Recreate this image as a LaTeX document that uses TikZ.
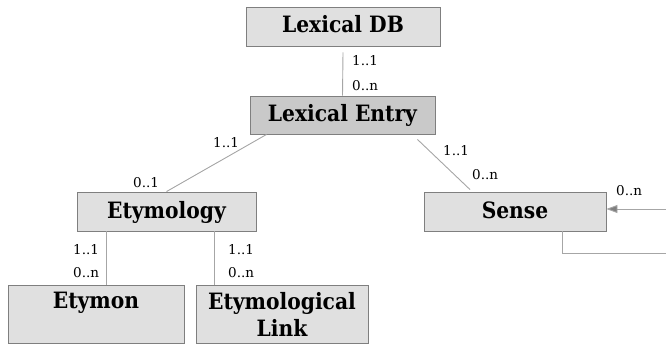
\documentclass[tikz,border=0pt]{standalone}
\usepackage{fontspec}
\setmainfont{DejaVu Serif}
\newfontfamily\boxfont{DejaVu Serif}[FakeStretch=0.9]
\usepackage{tikz}
\usetikzlibrary{positioning,arrows.meta}
\definecolor{boxfill}{HTML}{E0E0E0}
\definecolor{entryfill}{HTML}{C9C9C9}
\definecolor{boxline}{HTML}{7F7F7F}
\definecolor{linkline}{HTML}{A6A6A6}
\tikzset {
    style box/.style={
        fill=boxfill,
        draw=boxline,
        line width=0.9pt,
        rectangle, % Set the shape as a rectangle
        inner sep=0pt,
        text height=18pt,
        text depth=5pt,
        font=\boxfont\fontsize{22.5}{27}\selectfont\bfseries,
        align=center,
    },
    style entry/.style={
        style box,
        fill=entryfill,
    },
    style tall/.style={
        style box,
        text height=,
        text depth=,
        minimum height=58pt,
    },
    style mult/.style={
        anchor=base west,
        inner sep=0pt,
        font=\fontsize{13.5}{16}\selectfont,
    },
    style link/.style={
        draw=linkline,
        line width=0.9pt,
    },
}
\begin{document}
\begin{tikzpicture}[x=1pt, y=-1pt]
\useasboundingbox (0,0) rectangle (666,345);

\node[style box, minimum width=194pt, minimum height=39pt] at (343, 26.5) (db) {Lexical DB};
\node[style entry, minimum width=185pt, minimum height=38pt] at (342.5, 115) (entry) {Lexical Entry};
\node[style box, minimum width=179pt, minimum height=39pt] at (166.5, 211.5) (etym) {Etymology};
\node[style box, minimum width=182pt, minimum height=39pt] at (515, 211.5) (sense) {Sense};
\node[style tall, minimum width=176pt] at (96, 314) (etymon) {Etymon\\\phantom{Link}};
\node[style tall, minimum width=172pt] at (282, 314) (etlink) {Etymological\\Link};

\coordinate (in) at (666, 209);
\coordinate (out) at (666, 253);

\draw[style link] ([yshift=-6pt]db.south) -- (entry.north);
\draw[style link] ([xshift=17pt]entry.south west) -- (etym.north);
\draw[style link] ([xshift=-18pt, yshift=-5pt]entry.south east) -- ([xshift=-45pt, yshift=2pt]sense.north);
\draw[style link] ([xshift=30pt]etym.south west) -- ([xshift=30pt]etym.south west |- etymon.north);
\draw[style link] ([xshift=-42pt]etym.south east) -- ([xshift=-42pt]etym.south east |- etlink.north);
\draw[style link, -{Triangle[length=11pt, width=8pt, fill=boxline]}] (in) -- (in -| sense.east);
\draw[style link] ([xshift=-44pt]sense.south east) |- (out);

\node[style mult] at (352, 66) (dbone) {1..1};
\node[style mult] at (352, 90) (dbmany) {0..n};
\node[style mult] at (213, 147) (etone) {1..1};
\node[style mult] at (133, 187) (etzero) {0..1};
\node[style mult] at (443, 155) (seone) {1..1};
\node[style mult] at (472, 179) (semany) {0..n};
\node[style mult] at (616, 195) (selfmany) {0..n};
\node[style mult] at (73, 254) (mnone) {1..1};
\node[style mult] at (73, 277) (mnmany) {0..n};
\node[style mult] at (228, 254) (lkone) {1..1};
\node[style mult] at (228, 277) (lkmany) {0..n};
\end{tikzpicture}
\end{document}
